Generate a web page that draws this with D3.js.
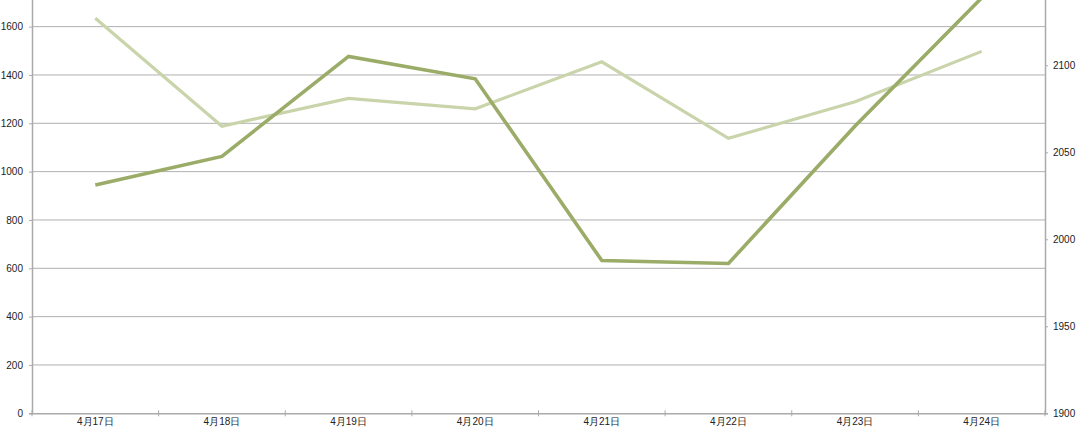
<!DOCTYPE html>
<html>
<head>
<meta charset="utf-8">
<script src="https://cdn.jsdelivr.net/npm/d3@7"></script>
<style>
  html, body { margin: 0; padding: 0; background: #fff; overflow: hidden; }
  svg { display: block; }
  text { font-family: "Liberation Sans", Arial, sans-serif; }
</style>
</head>
<body>
<svg id="chart" width="1080" height="427"></svg>
<script>
const categories = ["4月17日", "4月18日", "4月19日", "4月20日", "4月21日", "4月22日", "4月23日", "4月24日"];
const seriesLeft = [945, 1063, 1477, 1384, 632, 620, 1189, 1719];
const seriesRight = [2127, 2065, 2081, 2075, 2102, 2058, 2079, 2108];
const leftTicks = [0, 200, 400, 600, 800, 1000, 1200, 1400, 1600];
const rightTicks = [1900, 1950, 2000, 2050, 2100];

const svg = d3.select("#chart");
const plotL = 32, plotR = 1045, plotB = 413.3, plotT = -21.7;

const x = d3.scaleBand().domain(categories).range([plotL, plotR]).padding(0);
const yL = d3.scaleLinear().domain([0, 1800]).range([plotB, plotT]);
const yR = d3.scaleLinear().domain([1900, 2150]).range([plotB, plotT]);

// gridlines
svg.append("g").selectAll("line").data(leftTicks.filter(d => d > 0)).join("line")
  .attr("x1", plotL).attr("x2", plotR)
  .attr("y1", d => yL(d)).attr("y2", d => yL(d))
  .attr("stroke", "#b0b0b0").attr("stroke-width", 1);

// left axis
const gL = svg.append("g").attr("transform", `translate(${plotL},0)`)
  .call(d3.axisLeft(yL).tickValues(leftTicks).tickSize(3).tickPadding(6).tickFormat(d3.format("d")));
gL.select(".domain").attr("stroke", "#aaaaaa").attr("stroke-width", 1.5);
gL.selectAll(".tick line").attr("stroke", "#aaaaaa");
gL.selectAll(".tick text").attr("font-size", 10).attr("fill", "#222");

// right axis
const gR = svg.append("g").attr("transform", `translate(${plotR},0)`)
  .call(d3.axisRight(yR).tickValues(rightTicks).tickSize(3).tickPadding(5).tickFormat(d3.format("d")));
gR.select(".domain").attr("stroke", "#aaaaaa").attr("stroke-width", 1.5);
gR.selectAll(".tick line").attr("stroke", "#aaaaaa");
gR.selectAll(".tick text").attr("font-size", 10).attr("fill", "#222");

// bottom axis
const gB = svg.append("g").attr("transform", `translate(0,${plotB})`)
  .call(d3.axisBottom(x).tickSize(0).tickPadding(4.5));
gB.select(".domain").attr("stroke", "#aaaaaa").attr("stroke-width", 1.5);
gB.selectAll(".tick text").attr("font-size", 10).attr("fill", "#222");
// category boundary ticks
const bounds = categories.map(c => x(c)).concat([x(categories[categories.length - 1]) + x.bandwidth()]);
gB.append("g").selectAll("line").data(bounds).join("line")
  .attr("x1", d => d).attr("x2", d => d)
  .attr("y1", -3).attr("y2", 3)
  .attr("stroke", "#aaaaaa").attr("stroke-width", 1);

const cx = d => x(d) + x.bandwidth() / 2;

// light series (right axis)
svg.append("path")
  .datum(categories.map((c, i) => [cx(c), yR(seriesRight[i])]))
  .attr("fill", "none").attr("stroke", "#c9d4ab").attr("stroke-width", 3.2)
  .attr("stroke-linejoin", "miter")
  .attr("d", d3.line());

// dark series (left axis)
svg.append("path")
  .datum(categories.map((c, i) => [cx(c), yL(seriesLeft[i])]))
  .attr("fill", "none").attr("stroke", "#9aac68").attr("stroke-width", 3.6)
  .attr("stroke-linejoin", "miter")
  .attr("d", d3.line());
</script>
</body>
</html>
